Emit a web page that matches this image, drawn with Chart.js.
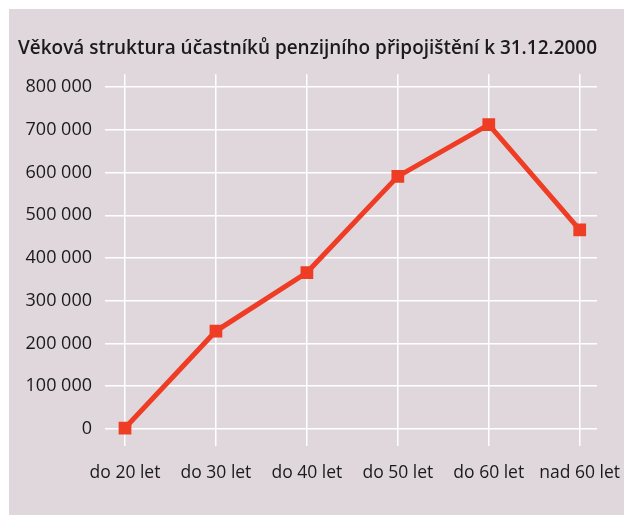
<!DOCTYPE html>
<html>
<head>
<meta charset="utf-8">
<script src="https://cdn.jsdelivr.net/npm/chart.js@4"></script>
<style>
  html, body { margin: 0; padding: 0; background: #ffffff; }
  #wrap { width: 624px; height: 515px; }
</style>
</head>
<body>
<div id="wrap"><canvas id="chart" width="624" height="515"></canvas></div>
<script>
// Data
const categories = ['do 20 let', 'do 30 let', 'do 40 let', 'do 50 let', 'do 60 let', 'nad 60 let'];
const ucastnici = [2000, 229000, 366000, 591000, 712000, 466000];
const yTicks = [0, 100000, 200000, 300000, 400000, 500000, 600000, 700000, 800000];
const title = 'Věková struktura účastníků penzijního připojištění k 31.12.2000';

// format 800000 -> "800 000"
function fmt(v) {
    return String(v).replace(/\B(?=(\d{3})+(?!\d))/g, ' ');
}

// background panel
const bgPlugin = {
    id: 'bg',
    beforeDraw(chart) {
        const ctx = chart.ctx;
        ctx.save();
        ctx.fillStyle = '#dfd7dc';
        ctx.fillRect(9, 9, chart.width - 9, chart.height - 9);
        ctx.restore();
    }
};

const ctx = document.getElementById('chart').getContext('2d');
const chart = new Chart(ctx, {
    type: 'line',
    data: {
        datasets: [{
            label: 'Účastníci',
            data: ucastnici.map((v, i) => ({ x: i, y: v })),
            borderColor: '#ee3d24',
            backgroundColor: '#ee3d24',
            borderWidth: 5,
            pointStyle: 'rect',
            pointRadius: 9,
            pointBorderWidth: 0,
            tension: 0
        }]
    },
    options: {
        responsive: false,
        animation: false,
        layout: { autoPadding: false, padding: { left: 18, right: 27, top: 12, bottom: 14 } },
        plugins: {
            legend: { display: false },
            tooltip: { enabled: false },
            title: {
                display: true,
                text: title,
                align: 'start',
                color: '#1a1a1a',
                font: { family: 'Open Sans', size: 20.2, weight: '600' },
                padding: { top: 24, bottom: 14 }
            }
        },
        scales: {
            x: {
                type: 'linear',
                min: -0.22,
                max: 5.19,
                afterBuildTicks: s => { s.ticks = categories.map((c, i) => ({ value: i })); },
                afterFit: s => { s.paddingLeft = 0; s.paddingRight = 0; },
                ticks: {
                    callback: v => categories[v],
                    color: '#1a1a1a',
                    font: { family: 'Open Sans', size: 17.5 },
                    padding: 17,
                    maxRotation: 0
                },
                grid: { color: '#ffffff', lineWidth: 1.5, drawTicks: false },
                border: { display: false }
            },
            y: {
                min: -40000,
                max: 830000,
                afterBuildTicks: s => { s.ticks = yTicks.map(v => ({ value: v })); },
                afterFit: s => { s.width = 87; },
                ticks: {
                    callback: v => fmt(v),
                    color: '#1a1a1a',
                    font: { family: 'Open Sans', size: 18 },
                    padding: 13
                },
                grid: { color: '#ffffff', lineWidth: 1.5, drawTicks: false },
                border: { display: false }
            }
        }
    },
    plugins: [bgPlugin]
});
</script>
</body>
</html>
